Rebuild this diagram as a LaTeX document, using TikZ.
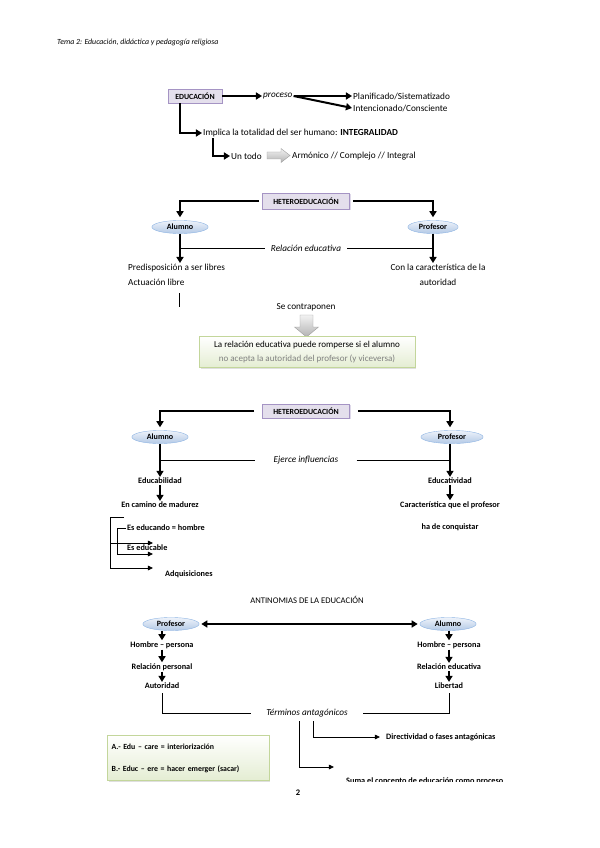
\documentclass[tikz,border=0pt]{standalone}
\usepackage{fontspec}
\setmainfont{Carlito}
\usetikzlibrary{arrows.meta,shapes.geometric,shadows}
\definecolor{lavfill}{HTML}{E4DFEC}
\definecolor{lavline}{HTML}{A594C4}
\definecolor{ovtop}{HTML}{EEF3FA}
\definecolor{ovbot}{HTML}{B3C9E6}
\definecolor{ovline}{HTML}{8EB4E3}
\definecolor{grfill}{HTML}{E4EDD2}
\definecolor{grline}{HTML}{C3D69B}

\begin{document}
\begin{tikzpicture}[x=0.035cm,y=-0.035cm,
    txt/.style={font=\fontsize{9.2}{15}\selectfont, inner sep=1pt},
    bt/.style={font=\fontsize{8.2}{10}\selectfont\bfseries, inner sep=1pt},
    it/.style={font=\fontsize{9.2}{11}\selectfont\itshape, inner sep=1pt},
    lbox/.style={draw=lavline, fill=lavfill, font=\fontsize{7.8}{9}\selectfont\bfseries, inner sep=1pt, minimum height=14pt,
        drop shadow={fill=lavline!70, shadow xshift=1.2pt, shadow yshift=-1.2pt}},
    oval/.style={ellipse, draw=ovline, top color=ovtop, bottom color=ovbot, minimum width=56pt, minimum height=13pt, inner sep=0pt,
        font=\fontsize{8}{9}\selectfont\bfseries},
    gbox/.style={draw=grline, top color=white, bottom color=grfill, inner sep=3pt,
        drop shadow={fill=black!25, shadow xshift=1.5pt, shadow yshift=-1.5pt}},
    garrow/.style={draw=gray!75, top color=gray!10, bottom color=gray!60},
    thk/.style={line width=2pt, -{Triangle[length=6pt,width=7pt]}},
    thn/.style={line width=0.8pt},
    tha/.style={line width=0.8pt, -{Triangle[length=5pt,width=4.5pt]}}]
    \useasboundingbox (0,0) rectangle (599,848);

    \node[anchor=west, font=\fontsize{7.8}{9}\selectfont\itshape, inner sep=0pt] (hdr) at (57,42) {Tema 2: Educación, didáctica y pedagogía religiosa};

    \node[lbox, minimum width=54pt] (edu) at (195,96) {EDUCACIÓN};
    \node[it, anchor=west] (proc) at (262,96) {proceso};
    \node[txt, anchor=west] (plan) at (352,96) {Planificado/Sistematizado};
    \node[txt, anchor=west] (inte) at (352,108) {Intencionado/Consciente};
    \node[txt, anchor=west] (impl) at (202,133) {Implica la totalidad del ser humano: \textbf{INTEGRALIDAD}};
    \node[txt, anchor=west] (todo) at (230,156) {Un todo};
    \node[txt, anchor=west] (armo) at (291,156) {Armónico // Complejo // Integral};
    \shade[garrow] (267,152) -- (281,152) -- (281,148.5) -- (290,155.5) -- (281,162.5) -- (281,159) -- (267,159) -- cycle;
    \draw[thk] (edu.east) -- (proc.west);
    \draw[thk] (proc.east) -- (plan.west);
    \draw[thk] (proc.east) -- (inte.west);
    \draw[thk] ([xshift=-15pt]edu.south) |- (impl.west);
    \draw[thk] ([xshift=11pt]impl.south west) |- (todo.west);

    \node[lbox, minimum width=87pt, minimum height=16pt] (het1) at (306,201) {HETEROEDUCACIÓN};
    \node[oval] (alu1) at (180,227) {Alumno};
    \node[oval, minimum width=50pt] (pro1) at (433,227) {Profesor};
    \node[it] (rel) at (306,248) {Relación educativa};
    \node[txt, anchor=north west, align=left] (pred) at (127,263) {Predisposición a ser libres\\Actuación libre};
    \node[txt, anchor=north, align=center] (cara1) at (438,263) {Con la característica de la\\autoridad};
    \draw[thk] ([xshift=-3pt]het1.west) -| ([yshift=3pt]alu1.north);
    \draw[thk] ([xshift=3pt]het1.east) -| ([yshift=3pt]pro1.north);
    \draw[thk] (alu1.south) -- (alu1.south |- pred.north);
    \draw[thk] (pro1.south) -- (pro1.south |- cara1.north);
    \draw[thn] (alu1.south |- rel.west) -- ([xshift=-5pt]rel.west);
    \draw[thn] ([xshift=5pt]rel.east) -- (pro1.south |- rel.east);
    \draw[thn] (179,293) -- (179,307);

    \node[txt] (contra) at (306,307) {Se contraponen};
    \shade[garrow] (300,315) -- (313,315) -- (313,327) -- (318.5,327) -- (306.5,337) -- (294.5,327) -- (300,327) -- cycle;
    \node[gbox, txt, minimum width=215pt, minimum height=31pt, align=center, font=\fontsize{9}{14}\selectfont] (romp) at (307,352)
        {La relación educativa puede romperse si el alumno\\\textcolor{black!50}{no acepta la autoridad del profesor (y viceversa)}};

    \node[lbox, minimum width=87pt] (het2) at (306,411) {HETEROEDUCACIÓN};
    \node[oval] (alu2) at (160,437) {Alumno};
    \node[oval, minimum width=62pt] (pro2) at (452,437) {Profesor};
    \node[it] (ejer) at (306,460) {Ejerce influencias};
    \node[bt] (edub) at (160,481) {Educabilidad};
    \node[bt] (edut) at (450,481) {Educatividad};
    \node[bt] (cami) at (160,505) {En camino de madurez};
    \node[bt] (cara2) at (450,505) {Característica que el profesor};
    \node[bt] (conq) at (450,527) {ha de conquistar};
    \draw[thk] ([xshift=-8pt]het2.west) -| ([yshift=3pt]alu2.north);
    \draw[thk] ([xshift=8pt]het2.east) -| ([yshift=3pt]pro2.north -| edut);
    \draw[thk] (alu2.south) -- (edub.north);
    \draw[thk] (pro2.south -| edut) -- (edut.north);
    \draw[thk] (edub.south) -- (cami.north);
    \draw[thk] (edut.south) -- (cara2.north);
    \draw[thn] (alu2.south |- ejer.west) -- ([xshift=-17pt]ejer.west);
    \draw[thn] ([xshift=17pt]ejer.east) -- (edut.north |- ejer.east);

    \node[bt, anchor=west] (esed) at (126,528) {Es educando = hombre};
    \node[bt, anchor=west] (esbl) at (126,548) {Es educable};
    \node[bt, anchor=west] (adqu) at (164,574) {Adquisiciones};
    \coordinate (br1) at (110,517);
    \coordinate (br2) at (117,528);
    \draw[thn] ([xshift=14pt]br1) -- (br1) -- ++(0,51) coordinate (br1b);
    \draw[tha] (br1b) -- ++(43,0);
    \draw[tha] (br1) ++(0,26) -- ++(43,0);
    \draw[thn] (esed.west) -- (br2) -- ++(0,26) coordinate (br2b);
    \draw[tha] (br2b) -- ++(36,0);

    \node[font=\fontsize{8.6}{10}\selectfont, inner sep=1pt] (anti) at (307,600) {ANTINOMIAS DE LA EDUCACIÓN};
    \node[oval] (pro3) at (171,624) {Profesor};
    \node[oval] (alu3) at (448,624) {Alumno};
    \node[bt] (hom1) at (162,645) {Hombre – persona};
    \node[bt] (rper) at (162,667) {Relación personal};
    \node[bt] (auto) at (162,686) {Autoridad};
    \node[bt] (hom2) at (449,645) {Hombre – persona};
    \node[bt] (redu) at (449,667) {Relación educativa};
    \node[bt] (libe) at (449,686) {Libertad};
    \draw[line width=2pt, {Triangle[length=6pt,width=7pt]}-{Triangle[length=6pt,width=7pt]}] ([xshift=2pt]pro3.east) -- ([xshift=-2pt]alu3.west);
    \draw[thk] (pro3.south -| hom1) -- (hom1.north);
    \draw[thk] (hom1.south) -- (rper.north);
    \draw[thk] (rper.south) -- (auto.north);
    \draw[thk] (alu3.south -| hom2) -- (hom2.north);
    \draw[thk] (hom2.south) -- (redu.north);
    \draw[thk] (redu.south) -- (libe.north);

    \node[it] (term) at (307,713) {Términos antagónicos};
    \node[bt, anchor=west] (dire) at (385,737) {Directividad o fases antagónicas};
    \coordinate (sumaend) at (334,767);
    \draw[thn] ([yshift=-3pt]auto.south) |- ([xshift=-14pt]term.west);
    \draw[thn] ([xshift=14pt]term.east) -| ([yshift=-3pt]libe.south);
    \draw[tha] ([xshift=6pt,yshift=-3pt]term.south) |- ([xshift=-5pt]dire.west);
    \draw[tha] ([xshift=-8pt,yshift=-3pt]term.south) |- (sumaend);
    \begin{scope}
        \clip (0,0) rectangle (599,781);
        \node[bt, anchor=west] (suma) at (345,781) {Suma el concepto de educación como proceso};
    \end{scope}

    \node[gbox, bt, minimum width=161pt, minimum height=45pt, text width=152pt, align=left, font=\fontsize{7.8}{10}\selectfont\bfseries] (ab) at (188,758)
        {A.- Edu – care = interiorización\\[12pt]B.- Educ – ere = hacer emerger (sacar)};

    \node[font=\fontsize{8.5}{10}\selectfont\bfseries, inner sep=0pt] (pag) at (298,793) {2};
\end{tikzpicture}
\end{document}
